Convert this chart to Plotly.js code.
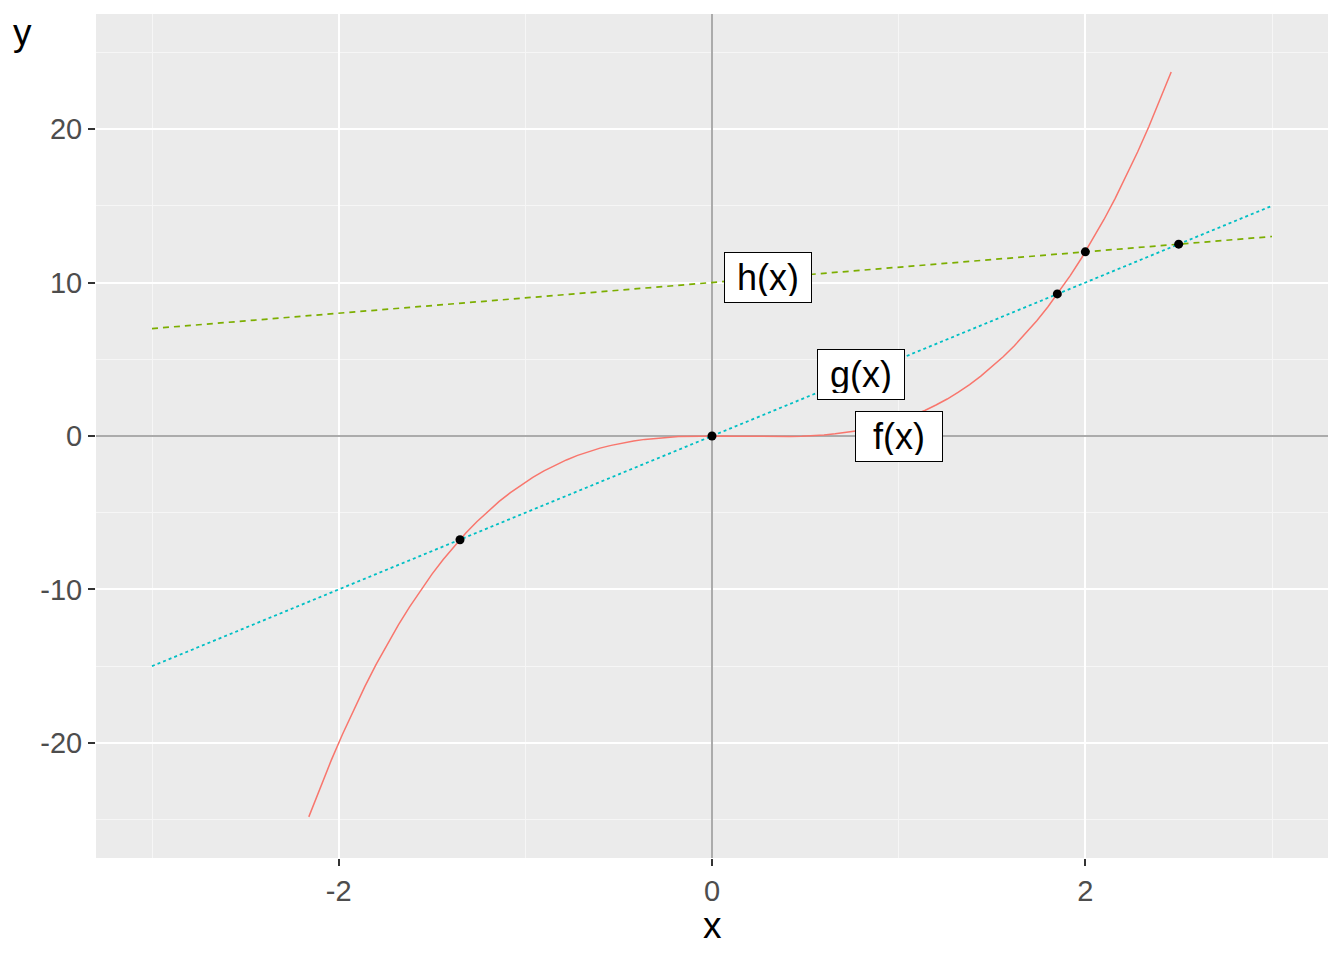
<!DOCTYPE html>
<html>
<head>
<meta charset="utf-8">
<script src="https://cdn.plot.ly/plotly-3.0.1.min.js"></script>
<style>
  html, body { margin: 0; padding: 0; background: #fff; }
  #chart { width: 1344px; height: 960px; }
</style>
</head>
<body>
<div id="chart"></div>
<script>
// f(x) curve
var fX = [-2.16, -2.10, -2.04, -1.98, -1.92, -1.86, -1.80, -1.74, -1.68, -1.62,
          -1.56, -1.50, -1.44, -1.38, -1.32, -1.26, -1.20, -1.14, -1.08, -1.02,
          -0.96, -0.90, -0.84, -0.78, -0.72, -0.66, -0.60, -0.54, -0.48, -0.42,
          -0.36, -0.30, -0.24, -0.18, -0.12, -0.06, 0.00, 0.06, 0.12, 0.18,
          0.24, 0.30, 0.36, 0.42, 0.48, 0.54, 0.60, 0.66, 0.72, 0.78,
          0.84, 0.90, 0.96, 1.02, 1.08, 1.14, 1.20, 1.26, 1.32, 1.38,
          1.44, 1.50, 1.56, 1.62, 1.68, 1.74, 1.80, 1.86, 1.92, 1.98,
          2.04, 2.10, 2.16, 2.22, 2.28, 2.34, 2.40, 2.46];
var fY = [-24.82, -22.93, -21.14, -19.45, -17.84, -16.33, -14.90, -13.56, -12.31, -11.13,
          -10.03, -9.00, -8.05, -7.16, -6.34, -5.59, -4.90, -4.26, -3.69, -3.16,
          -2.69, -2.27, -1.89, -1.56, -1.26, -1.01, -0.79, -0.61, -0.45, -0.32,
          -0.22, -0.14, -0.09, -0.04, -0.02, 0.00, 0.00, 0.00, -0.01, -0.02,
          -0.03, -0.04, -0.04, -0.03, -0.01, 0.02, 0.07, 0.14, 0.23, 0.34,
          0.48, 0.65, 0.85, 1.08, 1.35, 1.66, 2.02, 2.41, 2.86, 3.35,
          3.90, 4.50, 5.16, 5.88, 6.66, 7.51, 8.42, 9.41, 10.47, 11.60,
          12.82, 14.11, 15.49, 16.95, 18.51, 20.15, 21.89, 23.72];

// g(x) and h(x) straight lines
var gX = [-3, 3];
var gY = [-15, 15];
var hX = [-3, 3];
var hY = [7, 13];

// intersection points
var ptX = [-1.35, 0, 1.85, 2, 2.5];
var ptY = [-6.76, 0, 9.26, 12, 12.5];

// curve labels
var labelText = ['f(x)', 'g(x)', 'h(x)'];
var labelX = [1.0, 0.8, 0.3];
var labelY = [0, 4, 10.3];

var font = 'Liberation Sans, Arial, sans-serif';

var data = [
  {
    x: fX, y: fY, name: 'f', type: 'scatter', mode: 'lines',
    line: { color: '#F8766D', width: 1.5 }, hoverinfo: 'x+y'
  },
  {
    x: gX, y: gY, name: 'g', type: 'scatter', mode: 'lines',
    line: { color: '#00BFC4', width: 1.8, dash: 'dot' }, hoverinfo: 'x+y'
  },
  {
    x: hX, y: hY, name: 'h', type: 'scatter', mode: 'lines',
    line: { color: '#7CAE00', width: 1.7, dash: '6px,5px' }, hoverinfo: 'x+y'
  },
  {
    x: ptX, y: ptY, name: 'points', type: 'scatter', mode: 'markers',
    marker: { color: '#000000', size: 9 }, hoverinfo: 'x+y'
  }
];

var annotations = labelText.map(function (t, i) {
  return {
    x: labelX[i], y: labelY[i], xref: 'x', yref: 'y',
    text: t, showarrow: false,
    font: { family: font, size: 36, color: '#000000' },
    width: 74, height: 37,
    bgcolor: '#FFFFFF', bordercolor: '#000000', borderwidth: 1, borderpad: 6
  };
});

// axis titles, placed by pixel
annotations.push({
  x: (22 - 96) / 1232, y: (858 - 33) / 844, xref: 'paper', yref: 'paper',
  xanchor: 'center', yanchor: 'middle', showarrow: false,
  text: 'y', font: { family: font, size: 37, color: '#000000' }
});
annotations.push({
  x: 0.5, y: (858 - 925) / 844, xref: 'paper', yref: 'paper',
  xanchor: 'center', yanchor: 'middle', showarrow: false,
  text: 'x', font: { family: font, size: 37, color: '#000000' }
});

var layout = {
  width: 1344,
  height: 960,
  paper_bgcolor: '#FFFFFF',
  plot_bgcolor: '#EBEBEB',
  showlegend: false,
  margin: { l: 96, r: 16, t: 14, b: 102 },
  xaxis: {
    range: [-3.3, 3.3],
    tickvals: [-2, 0, 2],
    ticktext: ['-2', '0', '2'],
    showgrid: true, gridcolor: '#FFFFFF', gridwidth: 1.5,
    minor: { tickvals: [-3, -1, 1, 3], showgrid: true, gridcolor: '#F6F6F6', gridwidth: 0.8 },
    zeroline: true, zerolinecolor: '#ABABAB', zerolinewidth: 2,
    showline: false,
    ticks: 'outside', ticklen: 7, tickwidth: 1.5, tickcolor: '#333333',
    tickfont: { family: font, size: 29, color: '#4D4D4D' }
  },
  yaxis: {
    range: [-27.5, 27.5],
    tickvals: [-20, -10, 0, 10, 20],
    ticktext: ['-20', '-10', '0', '10', '20'],
    showgrid: true, gridcolor: '#FFFFFF', gridwidth: 1.5,
    minor: { tickvals: [-25, -15, -5, 5, 15, 25], showgrid: true, gridcolor: '#F6F6F6', gridwidth: 0.8 },
    zeroline: true, zerolinecolor: '#ABABAB', zerolinewidth: 2,
    showline: false,
    ticks: 'outside', ticklen: 7, tickwidth: 1.5, tickcolor: '#333333',
    tickfont: { family: font, size: 29, color: '#4D4D4D' }
  },
  annotations: annotations
};

var config = {
  responsive: false,
  displayModeBar: false
};

Plotly.newPlot('chart', data, layout, config);
</script>
</body>
</html>
